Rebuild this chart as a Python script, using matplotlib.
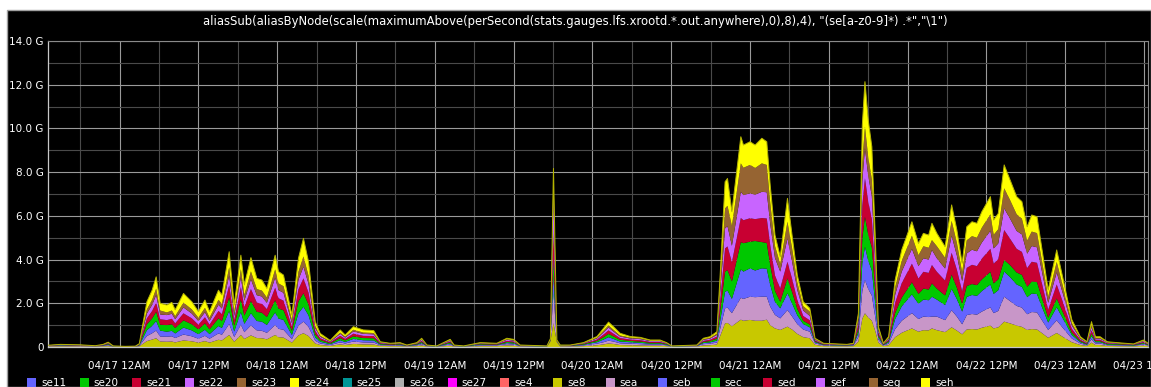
import numpy as np
import pandas as pd
import matplotlib
matplotlib.use("Agg")
import matplotlib.pyplot as plt
import matplotlib.dates as mdates
from matplotlib.patches import Rectangle
from matplotlib.ticker import MultipleLocator, FuncFormatter

# ---------------------------------------------------------------- data
# sample times, hours after 04/17 00:00
hours = [-10.9, -9.0, -6.0, -3.7, -2.5, -1.74, -0.97, 0.85, 2.4, 3.0,
         4.16, 4.96, 5.57, 6.18, 7.2, 7.96, 8.47, 9.73, 11.0, 12.0,
         13.0, 13.7, 15.06, 15.58, 16.69, 17.45, 18.47, 19.0, 20.0, 20.9,
         21.67, 22.43, 23.69, 24.2, 24.96, 26.24, 27.24, 28.0, 28.77, 29.79,
         30.55, 32.07, 33.6, 34.35, 35.6, 37.1, 38.7, 39.7, 41.2, 42.7,
         43.75, 45.27, 46.0, 46.8, 48.3, 50.34, 50.95, 52.4, 54.9, 57.45,
         58.97, 60.0, 61.0, 65.07, 65.6, 66.07, 66.59, 67.1, 68.6, 70.64,
         72.7, 73.7, 74.45, 75.2, 76.2, 77.75, 79.3, 80.8, 82.3, 83.3,
         84.1, 87.9, 88.9, 89.9, 90.95, 91.45, 92.2, 92.57, 93.24, 94.6,
         95.0, 96.0, 96.78, 97.8, 98.55, 99.07, 99.8, 100.6, 101.7, 102.4,
         103.2, 104.1, 105.1, 105.9, 107.2, 110.75, 111.75, 112.5, 113.1, 113.5,
         114.0, 114.55, 115.05, 115.55, 116.3, 117.1, 118.1, 119.1, 120.65, 121.65,
         122.4, 123.2, 123.7, 124.45, 125.7, 126.7, 127.5, 128.3, 129.0, 129.8,
         130.55, 131.3, 132.6, 133.1, 133.8, 134.7, 135.6, 136.6, 137.4, 138.2,
         138.9, 139.7, 140.4, 141.4, 142.7, 143.7, 145.0, 146.3, 147.3, 148.0,
         148.6, 149.3, 150.4, 151.9, 154.4, 155.9, 156.6]

# outbound rate per node, in G
se8 = [.02, .03, .02, .02, .03, .04, .01, .01, .01, .03,
       .27, .34, .40, .25, .24, .25, .21, .30, .26, .20,
       .27, .20, .33, .30, .55, .24, .55, .37, .53, .41,
       .40, .35, .55, .45, .43, .20, .53, .63, .50, .16,
       .09, .05, .12, .09, .14, .12, .11, .05, .04, .04,
       .02, .04, .07, .02, .01, .06, .02, .01, .04, .04,
       .07, .06, .02, .01, .25, 1.10, .22, .03, .02, .04,
       .08, .12, .16, .14, .09, .08, .07, .06, .06, .04,
       .01, .02, .07, .08, .11, .50, 1.08, 1.10, .95, 1.25,
       1.20, 1.24, 1.20, 1.20, 1.25, 1.00, .85, .78, .93, .80,
       .60, .45, .40, .10, .04, .03, .04, .25, 1.30, 1.54,
       1.35, 1.20, .75, .20, .04, .08, .45, .65, .85, .70,
       .77, .76, .85, .77, .68, .90, .75, .58, .80, .82,
       .80, .88, .98, .85, .90, 1.16, 1.08, .98, .92, .78,
       .82, .80, .65, .42, .64, .45, .22, .09, .05, .20,
       .09, .09, .05, .04, .03, .06, .04]

sea = [.02, .03, .03, .01, .02, .04, .01, .01, .01, .02,
       .23, .29, .35, .23, .23, .24, .20, .27, .23, .18,
       .24, .18, .29, .26, .50, .22, .47, .31, .46, .35,
       .34, .30, .46, .38, .36, .16, .45, .53, .42, .13,
       .07, .04, .09, .07, .11, .09, .09, .03, .03, .03,
       .02, .03, .06, .02, .01, .05, .02, .01, .03, .03,
       .06, .05, .02, .01, .03, 1.36, .03, .02, .02, .03,
       .07, .10, .13, .11, .08, .07, .06, .05, .05, .03,
       .01, .02, .06, .07, .09, .33, .69, .70, .60, 1.00,
       1.00, 1.06, 1.08, 1.10, 1.05, .85, .62, .53, .76, .60,
       .45, .35, .30, .07, .03, .02, .03, .20, 1.27, 1.52,
       1.30, 1.15, .65, .13, .03, .07, .37, .55, .70, .58,
       .62, .61, .54, .62, .55, .78, .64, .46, .66, .69,
       .68, .74, .83, .70, .75, 1.14, 1.02, .90, .88, .72,
       .78, .78, .60, .36, .58, .40, .17, .07, .03, .15,
       .07, .07, .03, .03, .02, .05, .03]

seb = [.01, .02, .01, .01, .02, .03, .01, .00, .01, .02,
       .27, .34, .44, .27, .23, .25, .21, .32, .27, .21,
       .28, .21, .34, .31, .60, .25, .58, .38, .56, .43,
       .42, .36, .57, .47, .45, .19, .56, .68, .53, .15,
       .08, .04, .10, .07, .12, .10, .10, .03, .02, .03,
       .01, .03, .05, .01, .01, .05, .01, .01, .03, .02,
       .05, .05, .01, .01, .02, .76, .02, .01, .01, .03,
       .07, .12, .16, .12, .08, .07, .06, .04, .04, .03,
       .01, .01, .05, .06, .09, .36, .76, .78, .65, 1.30,
       1.25, 1.30, 1.22, 1.30, 1.28, 1.00, .60, .46, .77, .60,
       .40, .25, .20, .05, .02, .02, .02, .20, 1.27, 1.53,
       1.30, 1.15, .65, .11, .02, .06, .46, .66, .86, .70,
       .78, .77, .91, .78, .69, .98, .80, .58, .83, .87,
       .86, .94, 1.05, .88, .95, 1.15, 1.10, .98, .95, .78,
       .85, .84, .62, .34, .60, .42, .16, .06, .03, .14,
       .06, .06, .03, .03, .02, .04, .02]

sec = [.01, .01, .01, .00, .01, .03, .01, .00, .00, .02,
       .27, .34, .42, .27, .30, .30, .25, .33, .28, .22,
       .29, .22, .35, .32, .62, .26, .58, .38, .55, .42,
       .41, .36, .56, .46, .44, .19, .55, .62, .50, .15,
       .08, .04, .10, .07, .12, .10, .10, .03, .02, .03,
       .01, .03, .05, .01, .01, .05, .01, .01, .03, .02,
       .05, .05, .01, .01, .02, .75, .01, .01, .01, .03,
       .06, .11, .15, .12, .08, .06, .06, .04, .04, .03,
       .01, .01, .05, .06, .09, .42, .92, .94, .80, 1.25,
       1.30, 1.22, 1.35, 1.20, 1.18, .92, .50, .30, .68, .52,
       .30, .15, .13, .04, .02, .01, .02, .17, 1.15, 1.37,
       1.20, 1.05, .60, .10, .02, .06, .28, .40, .55, .45,
       .50, .49, .61, .50, .44, .65, .52, .35, .50, .50,
       .49, .53, .58, .48, .50, .53, .55, .55, .55, .48,
       .55, .55, .42, .22, .40, .28, .11, .05, .03, .12,
       .05, .05, .03, .03, .02, .04, .02]

sed = [.01, .01, .01, .01, .01, .03, .00, .00, .00, .02,
       .27, .34, .42, .25, .23, .25, .21, .32, .27, .21,
       .28, .21, .34, .31, .55, .25, .56, .38, .55, .42,
       .41, .36, .57, .47, .44, .19, .55, .68, .53, .15,
       .08, .04, .10, .07, .12, .10, .10, .03, .02, .02,
       .01, .02, .05, .01, .00, .04, .01, .00, .02, .02,
       .05, .04, .01, .00, .02, 1.23, .01, .00, .01, .02,
       .06, .12, .16, .12, .08, .06, .06, .04, .04, .02,
       .00, .01, .05, .06, .09, .46, 1.06, 1.08, .88, 1.10,
       1.05, 1.07, 1.00, 1.10, 1.12, .90, .70, .61, .76, .60,
       .40, .22, .19, .04, .02, .01, .02, .22, 1.48, 1.76,
       1.50, 1.30, .72, .11, .02, .06, .46, .66, .85, .70,
       .77, .76, .84, .77, .68, 1.00, .82, .58, .83, .88,
       .87, .95, 1.05, .90, .92, 1.37, 1.20, 1.08, 1.05, .85,
       .90, .88, .68, .36, .64, .45, .17, .06, .03, .15,
       .06, .06, .03, .02, .02, .04, .02]

sef = [.01, .01, .01, .01, .01, .02, .01, .01, .01, .01,
       .22, .28, .35, .22, .23, .23, .19, .27, .22, .17,
       .23, .17, .28, .26, .45, .20, .45, .30, .44, .34,
       .33, .29, .46, .37, .36, .16, .44, .53, .41, .12,
       .07, .03, .09, .06, .10, .09, .08, .03, .02, .02,
       .01, .02, .05, .01, .01, .04, .01, .01, .02, .02,
       .05, .04, .01, .01, .02, 1.52, .01, .01, .01, .02,
       .05, .10, .13, .10, .07, .05, .05, .04, .04, .02,
       .01, .01, .05, .05, .08, .40, .92, .93, .75, 1.20,
       1.15, 1.14, 1.12, 1.20, 1.20, .98, .80, .77, 1.07, .80,
       .46, .25, .20, .04, .02, .01, .02, .18, 1.16, 1.37,
       1.18, 1.05, .58, .10, .02, .05, .37, .53, .68, .57,
       .62, .61, .69, .62, .55, .78, .65, .46, .66, .69,
       .68, .74, .83, .70, .72, .99, .92, .82, .80, .66,
       .72, .71, .56, .32, .55, .38, .15, .05, .03, .14,
       .05, .05, .03, .02, .01, .04, .02]

seg = [.00, .00, .00, .00, .01, .01, .00, .00, .00, .01,
       .19, .23, .29, .18, .12, .15, .14, .22, .19, .15,
       .20, .15, .23, .21, .38, .17, .37, .26, .37, .28,
       .27, .24, .38, .31, .30, .13, .36, .47, .37, .10,
       .05, .02, .06, .04, .08, .06, .06, .02, .01, .01,
       .00, .01, .03, .00, .00, .03, .00, .00, .01, .01,
       .03, .03, .00, .00, .01, .70, .01, .00, .00, .01,
       .04, .08, .10, .08, .05, .04, .04, .02, .02, .01,
       .00, .00, .03, .04, .06, .38, .91, .93, .90, 1.30,
       1.25, 1.30, 1.22, 1.30, 1.25, .96, .55, .35, .76, .60,
       .35, .20, .20, .03, .01, .01, .01, .12, .83, .99,
       .85, .76, .45, .08, .01, .04, .34, .49, .60, .50,
       .55, .54, .45, .55, .49, .68, .58, .40, .60, .62,
       .62, .68, .75, .62, .65, .92, .85, .76, .72, .60,
       .66, .65, .50, .27, .48, .33, .12, .04, .02, .12,
       .04, .04, .02, .01, .01, .02, .01]

seh = [.00, .01, .01, .00, .01, .02, .00, .00, .00, .02,
       .35, .44, .54, .33, .34, .37, .29, .42, .35, .28,
       .36, .28, .44, .41, .71, .33, .64, .46, .63, .49,
       .48, .42, .65, .54, .51, .24, .62, .83, .64, .20,
       .10, .04, .12, .08, .14, .12, .11, .02, .01, .02,
       .01, .02, .04, .01, .00, .03, .01, .00, .02, .01,
       .04, .03, .01, .00, .01, .75, .01, .01, .01, .02,
       .05, .11, .15, .14, .10, .05, .04, .03, .03, .02,
       .00, .01, .04, .05, .09, .44, 1.22, 1.25, .66, 1.22,
       1.04, 1.06, 1.05, 1.15, 1.06, .80, .50, .33, 1.07, .60,
       .33, .20, .15, .03, .01, .01, .01, .20, 1.70, 2.06,
       1.70, 1.50, .80, .10, .01, .05, .34, .50, .64, .54,
       .59, .58, .77, .59, .51, .73, .59, .42, .62, .66,
       .66, .73, .81, .68, .72, 1.07, .92, .81, .78, .63,
       .76, .75, .56, .32, .55, .36, .15, .05, .02, .14,
       .05, .05, .02, .02, .01, .03, .01]

# nodes that stayed idle over the whole window
idle = [0.0] * len(hours)

names = ["se11", "se20", "se21", "se22", "se23", "se24", "se25", "se26",
         "se27", "se4", "se8", "sea", "seb", "sec", "sed", "sef", "seg", "seh"]
values = [idle] * 10 + [se8, sea, seb, sec, sed, sef, seg, seh]

# graphite default colour cycle
palette = ["#6464ff", "#00c800", "#c80032", "#c864ff", "#966432", "#ffff00",
           "#009696", "#afafaf", "#ff00ff", "#ff6464", "#c8c800", "#c896c8"]
colors = [palette[i % len(palette)] for i in range(len(names))]

title = ('aliasSub(aliasByNode(scale(maximumAbove(perSecond('
         'stats.gauges.lfs.xrootd.*.out.anywhere),0),8),4), '
         '"(se[a-z0-9]*) .*","\\1")')

# ---------------------------------------------------------------- figure
W, H = 1151, 387
fig = plt.figure(figsize=(W / 100, H / 100), dpi=100, facecolor="white")
fig.patches.append(Rectangle((7 / W, 0), 1 - 7 / W, 1 - 10 / H,
                             transform=fig.transFigure, facecolor="black",
                             edgecolor="#a0a0a0", linewidth=1.0, zorder=-10))

ax = fig.add_axes([48 / W, 1 - 347 / H, 1100 / W, 306 / H])
ax.set_zorder(1)
ax.set_facecolor("black")

start = pd.Timestamp("2015-04-17 00:00")
times = start + pd.to_timedelta(hours, unit="h")

ax.stackplot(times, *[np.asarray(v) for v in values], colors=colors,
             linewidth=0, zorder=2)
total = np.sum([np.asarray(v) for v in values], axis=0)
ax.plot(times, total, color="#b4b400", linewidth=0.7, zorder=3)

ax.set_xlim(start + pd.Timedelta(hours=-10.9), start + pd.Timedelta(hours=156.6))
ax.set_ylim(0, 14)

ax.xaxis.set_major_locator(mdates.HourLocator(byhour=[0, 12]))
ax.xaxis.set_minor_locator(mdates.HourLocator(byhour=[6, 18]))
ax.xaxis.set_major_formatter(mdates.DateFormatter("%m/%d %I%p"))
ax.yaxis.set_major_locator(MultipleLocator(2))
ax.yaxis.set_minor_locator(MultipleLocator(1))
ax.yaxis.set_major_formatter(FuncFormatter(
    lambda v, p: "0" if v == 0 else f"{v:.1f} G"))

ax.set_axisbelow(True)
ax.grid(which="major", color="#9a9a9a", linewidth=0.8, zorder=0)
ax.grid(which="minor", color="#4a4a4a", linewidth=0.8, zorder=0)

ax.tick_params(axis="both", which="both", length=0, colors="white")
ax.tick_params(axis="x", which="major", labelsize=7.5, pad=10)
ax.tick_params(axis="y", which="major", labelsize=7.5, pad=3)
for side in ("left", "bottom"):
    ax.spines[side].set_color("#c8c8c8")
    ax.spines[side].set_linewidth(0.9)
for side in ("top", "right"):
    ax.spines[side].set_color("#8a8a8a")
    ax.spines[side].set_linewidth(0.8)

fig.text(0.5, 1 - 22 / H, title, ha="center", va="center",
         color="white", fontsize=8.4)

# legend row
for i, (name, col) in enumerate(zip(names, colors)):
    x0 = 27 + 52.6 * i
    fig.patches.append(Rectangle((x0 / W, 0), 9 / W, 9 / H,
                                 transform=fig.transFigure, facecolor=col,
                                 edgecolor="none", zorder=3))
    fig.text((x0 + 14) / W, 4 / H, name, ha="left", va="center",
             color="white", fontsize=7.5)

fig.savefig("out.png", dpi=100, facecolor="white")
